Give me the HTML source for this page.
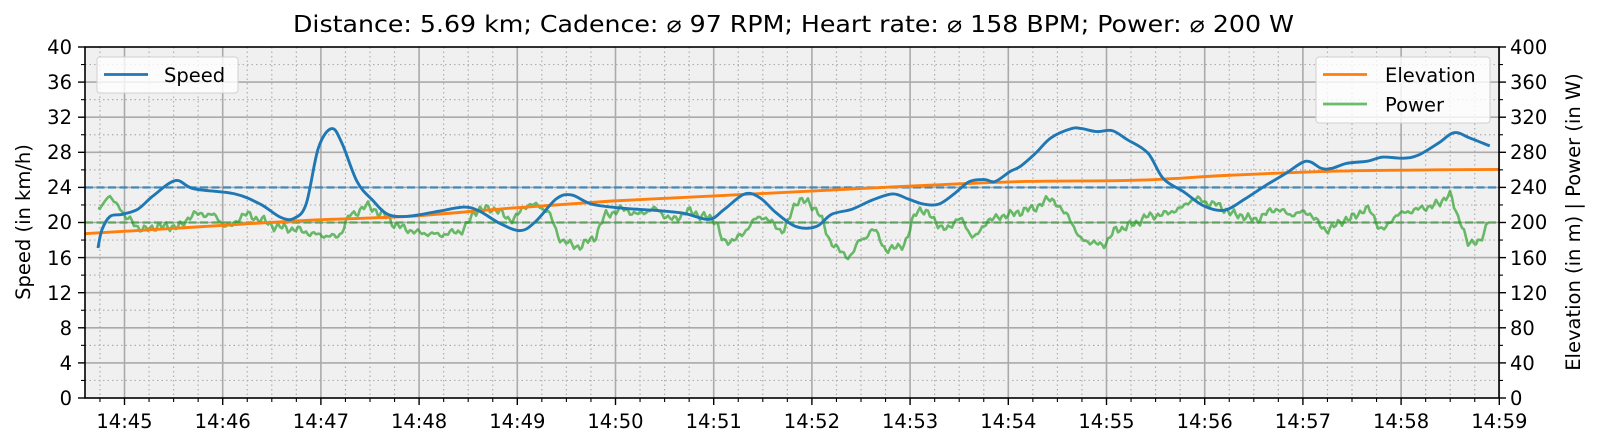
<!DOCTYPE html>
<html><head><meta charset="utf-8">
<style>
html,body{margin:0;padding:0;background:#fff;}
svg{display:block;font-family:"DejaVu Sans","Liberation Sans",sans-serif;}
</style></head>
<body>
<svg id="s" width="1600" height="448" viewBox="0 0 1600 448" xmlns="http://www.w3.org/2000/svg">
<rect x="85" y="47" width="1414" height="351" fill="#f0f0f0"/>
<g id="grid"></g>
<g id="series"></g>
<rect x="85" y="47" width="1414" height="351" fill="none" stroke="#000" stroke-width="1.6"/>
<g id="ticks" stroke="#000"></g>
<text x="293" y="32" font-size="23" textLength="1001" lengthAdjust="spacingAndGlyphs">Distance: 5.69 km; Cadence: ⌀ 97 RPM; Heart rate: ⌀ 158 BPM; Power: ⌀ 200 W</text>
<g font-size="19.5" text-anchor="end">
<text x="72" y="54">40</text><text x="72" y="89">36</text><text x="72" y="124">32</text><text x="72" y="159">28</text><text x="72" y="194">24</text><text x="72" y="229">20</text><text x="72" y="265">16</text><text x="72" y="300">12</text><text x="72" y="335">8</text><text x="72" y="370">4</text><text x="72" y="405">0</text>
</g>
<g font-size="19.5" text-anchor="start">
<text x="1510" y="54">400</text><text x="1510" y="89">360</text><text x="1510" y="124">320</text><text x="1510" y="159">280</text><text x="1510" y="194">240</text><text x="1510" y="229">200</text><text x="1510" y="265">160</text><text x="1510" y="300">120</text><text x="1510" y="335">80</text><text x="1510" y="370">40</text><text x="1510" y="405">0</text>
</g>
<g font-size="19.5" text-anchor="middle">
<text x="124.5" y="428">14:45</text><text x="222.7" y="428">14:46</text><text x="320.9" y="428">14:47</text><text x="419.1" y="428">14:48</text><text x="517.3" y="428">14:49</text><text x="615.5" y="428">14:50</text><text x="713.7" y="428">14:51</text><text x="811.9" y="428">14:52</text><text x="910.1" y="428">14:53</text><text x="1008.3" y="428">14:54</text><text x="1106.5" y="428">14:55</text><text x="1204.7" y="428">14:56</text><text x="1302.9" y="428">14:57</text><text x="1401.1" y="428">14:58</text><text x="1499.3" y="428">14:59</text>
</g>
<text transform="translate(30,222) rotate(-90)" font-size="19.5" text-anchor="middle">Speed (in km/h)</text>
<text transform="translate(1580,222) rotate(-90)" font-size="19.5" text-anchor="middle">Elevation (in m) | Power (in W)</text>
<rect x="97" y="57" width="141" height="36" rx="3" fill="#fff" fill-opacity="0.8" stroke="#d0d0d0"/>
<line x1="104" y1="74.5" x2="148" y2="74.5" stroke="#1f77b4" stroke-width="2.8"/>
<text x="164" y="82" font-size="19.5">Speed</text>
<rect x="1316" y="57" width="174" height="66" rx="3" fill="#fff" fill-opacity="0.8" stroke="#d0d0d0"/>
<line x1="1323" y1="74.5" x2="1367" y2="74.5" stroke="#ff7f0e" stroke-width="2.8"/>
<line x1="1323" y1="104" x2="1367" y2="104" stroke="#2ca02c" stroke-opacity="0.7" stroke-width="2.8"/>
<text x="1385" y="82" font-size="19.5">Elevation</text>
<text x="1385" y="111.5" font-size="19.5">Power</text>
</svg>
<script>
(function(){
var NS="http://www.w3.org/2000/svg";
function el(p,t,a){var e=document.createElementNS(NS,t);for(var k in a)e.setAttribute(k,a[k]);p.appendChild(e);return e;}
var L=85,R=1499,T=47,B=398;
var g=document.getElementById('grid'),tk=document.getElementById('ticks'),sr=document.getElementById('series');
function X(m){return 124.5+98.2*m;}
function Y(v){return B-(B-T)*v/40;}
for(var q=-2;q<=56;q++){var m=q/4,x=X(m);if(x<L+0.5||x>R+0.6)continue;
 if(q%4==0){el(g,'line',{x1:x,y1:T,x2:x,y2:B,stroke:'#aaaaaa','stroke-width':1.6});el(tk,'line',{x1:x,y1:B,x2:x,y2:B+7,'stroke-width':1.4});}
 else{el(g,'line',{x1:x,y1:T,x2:x,y2:B,stroke:'#b0b0b0','stroke-width':1.2,'stroke-dasharray':'1.5,3'});el(tk,'line',{x1:x,y1:B,x2:x,y2:B+4,'stroke-width':1.1});}}
for(var v=0;v<=40;v+=2){var y=Y(v);
 if(v%4==0){if(v>0&&v<40)el(g,'line',{x1:L,y1:y,x2:R,y2:y,stroke:'#aaaaaa','stroke-width':1.6});el(tk,'line',{x1:L-7,y1:y,x2:L,y2:y,'stroke-width':1.4});el(tk,'line',{x1:R,y1:y,x2:R+7,y2:y,'stroke-width':1.4});}
 else{el(g,'line',{x1:L,y1:y,x2:R,y2:y,stroke:'#b0b0b0','stroke-width':1.2,'stroke-dasharray':'1.5,3'});el(tk,'line',{x1:L-4,y1:y,x2:L,y2:y,'stroke-width':1.1});el(tk,'line',{x1:R,y1:y,x2:R+4,y2:y,'stroke-width':1.1});}}
el(sr,'line',{x1:L,y1:Y(24),x2:R,y2:Y(24),stroke:'#1f77b4','stroke-opacity':0.7,'stroke-width':2.4,'stroke-dasharray':'8,3.5'});
el(sr,'line',{x1:L,y1:Y(20),x2:R,y2:Y(20),stroke:'#2ca02c','stroke-opacity':0.6,'stroke-width':2.4,'stroke-dasharray':'8,3.5'});
var k=1/0.98;
function conv(a){var r=[];for(var i=0;i<a.length;i+=2)r.push([a[i]*k,a[i+1]*k]);return r;}
function smooth(p){var d='M'+p[0][0].toFixed(1)+','+p[0][1].toFixed(1);
 for(var i=0;i<p.length-1;i++){var p0=p[i-1]||p[i],p1=p[i],p2=p[i+1],p3=p[i+2]||p2;
  d+='C'+(p1[0]+(p2[0]-p0[0])/6).toFixed(1)+','+(p1[1]+(p2[1]-p0[1])/6).toFixed(1)+' '+(p2[0]-(p3[0]-p1[0])/6).toFixed(1)+','+(p2[1]-(p3[1]-p1[1])/6).toFixed(1)+' '+p2[0].toFixed(1)+','+p2[1].toFixed(1);}
 return d;}
var pw=[96,205,100,200,105,193,115,200,125,215,140,225,155,222,175,222,190,210,205,210,225,222,240,210,255,215,270,222,290,225,310,230,330,232,345,210,360,202,375,210,390,222,410,228,430,230,450,227,470,205,485,205,500,215,520,200,535,205,550,235,565,242,580,235,595,210,610,205,625,210,640,205,660,215,675,207,690,212,700,215,710,238,725,232,740,215,750,213,765,226,785,195,800,205,815,238,830,252,845,235,855,225,870,245,885,240,900,205,910,210,925,225,940,215,955,232,970,215,990,210,1010,205,1030,195,1045,210,1060,235,1080,240,1095,225,1110,220,1125,212,1140,210,1155,205,1170,195,1190,200,1210,210,1230,215,1250,205,1265,210,1280,208,1300,225,1320,215,1340,205,1355,225,1370,210,1390,205,1410,200,1420,190,1430,215,1440,240,1450,235,1460,218];
var pp=conv(pw),d='',j=0;
for(var x=pp[0][0];x<=pp[pp.length-1][0];x+=2){while(j<pp.length-2&&pp[j+1][0]<x)j++;
 var a=pp[j],b=pp[j+1],t=(x-a[0])/(b[0]-a[0]);t=Math.max(0,Math.min(1,t));var s=t*t*(3-2*t);
 var y=a[1]+(b[1]-a[1])*s+2.2*Math.sin(x*0.9)+1.6*Math.sin(x*0.37+1)+1.2*Math.sin(x*2.3);
 d+=(d?'L':'M')+x.toFixed(1)+','+y.toFixed(1);}
el(sr,'path',{d:d,fill:'none',stroke:'#2ca02c','stroke-opacity':0.7,'stroke-width':2.6,'stroke-linejoin':'round'});
var ev=[83,229,200,222,300,216,400,212,500,204,600,197,700,192,800,187,900,182,1000,178,1100,177,1150,175,1200,172,1300,168,1400,166.5,1469,166];
el(sr,'path',{d:smooth(conv(ev)),fill:'none',stroke:'#ff7f0e','stroke-width':2.9});
var sp=[96,243,100,225,108,212,120,210,135,205,150,192,172,177,190,185,230,190,255,200,275,213,288,214,300,200,312,145,325,126,335,140,350,178,365,196,380,210,400,212,430,207,455,203,470,207,490,219,510,226,525,217,545,195,560,191,580,200,610,204,640,206,670,209,695,215,710,205,730,190,745,194,760,208,780,222,800,222,815,210,835,205,855,196,875,190,890,195,905,200,920,200,935,190,950,178,965,176,975,178,990,168,1000,163,1015,150,1030,135,1050,126,1060,126,1075,129,1090,128,1105,137,1125,150,1140,175,1160,188,1180,202,1200,206,1220,195,1240,182,1260,170,1280,158,1295,165,1305,165,1320,160,1340,158,1355,154,1375,155,1390,152,1410,140,1425,130,1440,135,1460,143];
el(sr,'path',{d:smooth(conv(sp)),fill:'none',stroke:'#1f77b4','stroke-width':2.9,'stroke-linejoin':'round'});
})();
</script>
</body></html>
